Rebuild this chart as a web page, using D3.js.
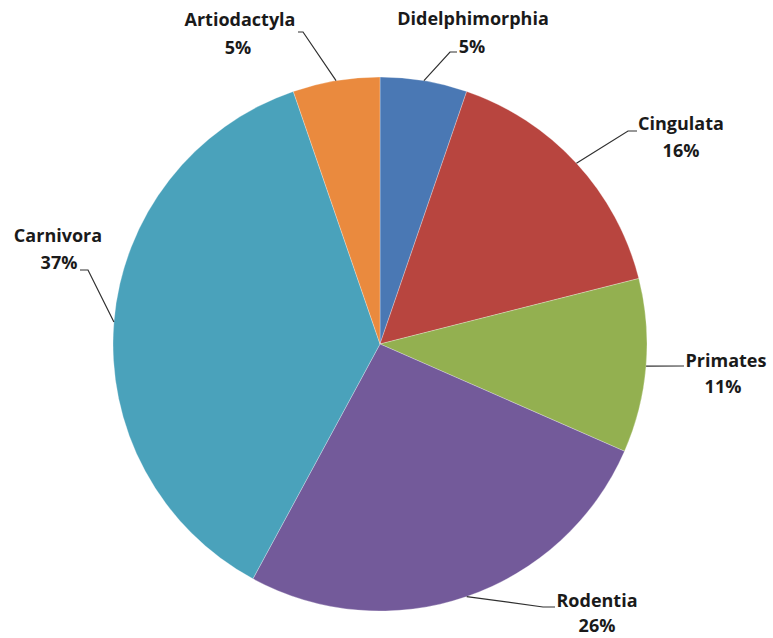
<!DOCTYPE html>
<html>
<head>
<meta charset="utf-8">
<script src="https://cdn.jsdelivr.net/npm/d3@7"></script>
<style>
  html, body { margin: 0; padding: 0; background: #fff; }
  svg { display: block; }
  text { font-family: "Open Sans", Lato, sans-serif; font-weight: bold; fill: #1a1a1a; }
</style>
</head>
<body>
<svg id="chart" width="773" height="638"></svg>
<script>
// ---- data ----
const categories = ["Didelphimorphia", "Cingulata", "Primates", "Rodentia", "Carnivora", "Artiodactyla"];
const counts = [2, 6, 4, 10, 14, 2];
const percentLabels = ["5%", "16%", "11%", "26%", "37%", "5%"];
const colors = ["#4a78b4", "#b8453f", "#93b050", "#735a9a", "#4aa2bb", "#ea8a3e"];

// ---- layout (label placement) ----
const labelLayout = {
  "Didelphimorphia": { name: [473, 25], pct: [472, 53], path: [[450, 52], [457, 52]] },
  "Cingulata":       { name: [681, 130], pct: [681, 157], path: [[628, 131], [637, 131]] },
  "Primates":        { name: [726, 367], pct: [723, 393], path: [[684, 366]] },
  "Rodentia":        { name: [597, 607], pct: [597, 632], path: [[543, 607], [555, 607]] },
  "Carnivora":       { name: [58, 242], pct: [59, 269], path: [[88, 270], [80, 270]] },
  "Artiodactyla":    { name: [240, 26], pct: [238, 54], path: [[303, 32], [298, 32]] }
};

const cx = 380, cy = 344, r = 267;
const svg = d3.select("#chart");
const g = svg.append("g").attr("transform", `translate(${cx},${cy})`);

const pie = d3.pie().sort(null).value(d => d.value);
const data = categories.map((c, i) => ({ name: c, value: counts[i], pct: percentLabels[i], color: colors[i] }));
const arcs = pie(data);
const arc = d3.arc().innerRadius(0).outerRadius(r);
const edgeArc = d3.arc().innerRadius(r).outerRadius(r);

g.selectAll("path.slice")
  .data(arcs)
  .enter().append("path")
  .attr("class", "slice")
  .attr("d", arc)
  .attr("fill", d => d.data.color)
  .attr("stroke", "rgba(255,255,255,0.35)")
  .attr("stroke-width", 0.8);

// leader lines
const line = d3.line();
arcs.forEach(a => {
  const L = labelLayout[a.data.name];
  const c = edgeArc.centroid(a);
  const pts = [[c[0] + cx, c[1] + cy]].concat(L.path);
  svg.append("path")
    .attr("d", line(pts))
    .attr("fill", "none")
    .attr("stroke", "#303030")
    .attr("stroke-width", 1.2);
  svg.append("text")
    .attr("x", L.name[0]).attr("y", L.name[1])
    .attr("text-anchor", "middle")
    .attr("font-size", 18)
    .text(a.data.name);
  svg.append("text")
    .attr("x", L.pct[0]).attr("y", L.pct[1])
    .attr("text-anchor", "middle")
    .attr("font-size", 18)
    .text(a.data.pct);
});
</script>
</body>
</html>
